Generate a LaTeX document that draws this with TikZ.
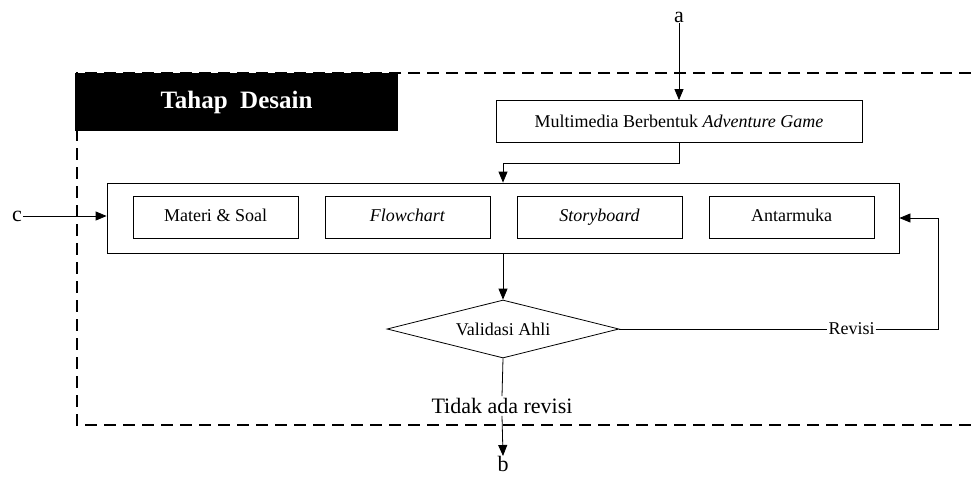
\documentclass[tikz,border=0pt]{standalone}
\usepackage{fontspec}
\setmainfont{Liberation Serif}
\usetikzlibrary{arrows.meta,shapes.geometric}

\begin{document}
\begin{tikzpicture}[x=1pt,y=-1pt,
  thin line/.style={line width=0.8pt},
  arr/.style={thin line,-{Triangle[length=11pt,width=9pt]}},
  frameline/.style={line width=2.6pt,dash pattern=on 12pt off 7pt},
  boxtext/.style={font=\fontsize{18}{20}\selectfont},
  stepbox/.style={draw,thin line,boxtext,inner sep=0pt,text height=12pt,text depth=4pt,
    minimum width=165pt,minimum height=42pt},
  biglabel/.style={font=\fontsize{22}{24}\selectfont,inner sep=1pt}]
\useasboundingbox (0,0) rectangle (971,477);

% dashed frame of the design stage (open to the right)
\draw[frameline] (971,73) -- (77,73) -- (77,425) -- (971,425);

% stage title
\node[fill=black,text=white,inner sep=0pt,minimum width=323pt,minimum height=58pt,
  font=\fontsize{25}{27}\selectfont\bfseries] (title) at (236.5,102) {Tahap\ \ Desain};

% product box
\node[draw,thin line,boxtext,inner sep=0pt,minimum width=366pt,minimum height=42pt]
  (mm) at (679,121.5) {Multimedia Berbentuk \textit{Adventure Game}};

% design components
\node[draw,thin line,inner sep=0pt,minimum width=792pt,minimum height=70pt]
  (outer) at (503,218) {};
\node[stepbox] (materi) at (215.5,217) {Materi \& Soal};
\node[stepbox] (flow)   at (407.5,217) {\textit{Flowchart}};
\node[stepbox] (story)  at (599.5,217) {\textit{Storyboard}};
\node[stepbox] (ui)     at (791.5,217) {Antarmuka};

% expert validation
\node[draw,thin line,diamond,aspect=4,inner sep=0pt,boxtext,
  minimum width=232pt,minimum height=58pt] (val) at (503,329) {Validasi Ahli};
\node[boxtext,inner sep=1pt] (rev) at (851.5,329) {Revisi};
\coordinate (rc) at (938,329);

% entry and exit labels
\node[biglabel] (a) at (679,17) {a};
\node[biglabel] (c) at (17,216) {c};
\node[biglabel,inner sep=2pt] (tidak) at (502,406) {Tidak ada revisi};
\node[biglabel,anchor=north,inner sep=0pt] (b) at (503,456) {b};

% connectors
\draw[arr] (a) -- (mm);
\draw[arr] (c) -- (c -| outer.west);
\draw[arr] (mm.south) -- ++(0,20) -| (outer.north);
\draw[arr] (outer.south) -- (val.north);
\draw[thin line] (val.east) -- (rev.west);
\draw[arr] (rev.east) -- (rc) |- (outer.east);
\draw[thin line] (val.south) -- (tidak.north);
\draw[arr] (tidak.south) -- (b.north);
\end{tikzpicture}
\end{document}
